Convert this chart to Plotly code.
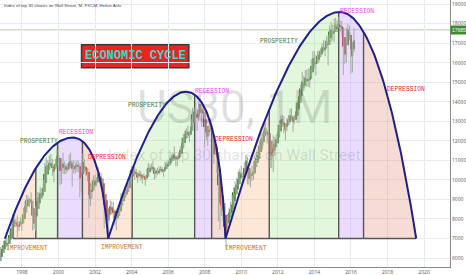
import numpy as np
import plotly.graph_objects as go

# ---------------- data: US30 monthly (Sep 1996 .. Mar 2016) ----------------
start_year, start_month = 1996, 9
first_open = 5616
closes = [
    5882, 6029, 6522, 6448,
    6813, 6877, 6584, 7009, 7331, 7673, 8223, 7622, 7945, 7442, 7823, 7908,
    7907, 8546, 8800, 9063, 8900, 8952, 8883, 7539, 7843, 8592, 9117, 9181,
    9359, 9307, 9786, 10789, 10560, 10971, 10655, 10829, 10337, 10730, 10878, 11497,
    10941, 10128, 10922, 10734, 10522, 10448, 10522, 11215, 10651, 10971, 10415, 10787,
    10887, 10495, 9879, 10735, 10912, 10502, 10523, 9950, 8848, 9075, 9852, 10021,
    9920, 10106, 10404, 9946, 9925, 9243, 8737, 8664, 7592, 8397, 8896, 8342,
    8054, 7891, 7992, 8480, 8850, 8985, 9234, 9416, 9275, 9801, 9782, 10454,
    10488, 10584, 10358, 10226, 10188, 10435, 10140, 10174, 10080, 10027, 10428, 10783,
    10490, 10766, 10504, 10193, 10467, 10275, 10641, 10482, 10569, 10440, 10806, 10718,
    10865, 10993, 11109, 11367, 11168, 11150, 11186, 11381, 11679, 12081, 12222, 12463,
    12622, 12269, 12354, 13063, 13628, 13409, 13212, 13358, 13896, 13930, 13372, 13265,
    12650, 12266, 12263, 12820, 12638, 11350, 11378, 11544, 10851, 9325, 8829, 8776,
    8001, 7063, 7609, 8168, 8500, 8447, 9172, 9496, 9712, 9713, 10345, 10428,
    10067, 10325, 10857, 11009, 10137, 9774, 10466, 10015, 10788, 11118, 11006, 11578,
    11892, 12226, 12320, 12811, 12570, 12414, 12143, 11614, 10913, 11955, 12046, 12218,
    12633, 12952, 13212, 13214, 12393, 12880, 13009, 13091, 13437, 13096, 13026, 13104,
    13861, 14054, 14579, 14840, 15116, 14910, 15500, 14810, 15130, 15546, 16086, 16577,
    15699, 16322, 16458, 16581, 16717, 16827, 16563, 17098, 17043, 17391, 17828, 17823,
    17165, 18133, 17776, 17841, 18011, 17620, 17690, 16528, 16285, 17664, 17720, 17425,
    16466, 16517, 17685,
]
highs = [
    5905, 6094, 6561, 6560,
    6883, 7079, 7112, 7045, 7383, 7796, 8254, 8299, 7996, 8178, 7881, 8113,
    7978, 8569, 8906, 9212, 9211, 9069, 9367, 8883, 8154, 8643, 9380, 9374,
    9647, 9552, 10006, 10878, 11107, 11005, 11252, 11326, 11079, 10800, 11089, 11568,
    11750, 11041, 11119, 11401, 10936, 10815, 10843, 11310, 11401, 10988, 11000, 10899,
    11015, 10983, 10858, 10879, 11350, 11066, 10694, 10610, 10033, 9554, 9982, 10220,
    10259, 10145, 10673, 10404, 10353, 9925, 9379, 9077, 8664, 8538, 8950, 8910,
    8869, 8109, 8522, 8516, 8876, 9323, 9338, 9428, 9686, 9859, 9859, 10461,
    10702, 10754, 10678, 10571, 10226, 10479, 10435, 10217, 10341, 10239, 10572, 10868,
    10783, 10841, 10984, 10555, 10542, 10623, 10705, 10697, 10684, 10569, 10940, 10931,
    11043, 11137, 11318, 11419, 11709, 11258, 11260, 11404, 11732, 12160, 12362, 12530,
    12642, 12795, 12495, 13121, 13692, 13692, 14022, 13652, 14002, 14198, 13930, 13763,
    13280, 12767, 12622, 12891, 13136, 12638, 11698, 11808, 11790, 10851, 9654, 9026,
    9088, 8280, 7924, 8254, 8589, 8878, 9242, 9620, 9918, 10119, 10450, 10580,
    10729, 10403, 10907, 11258, 11167, 10594, 10592, 10720, 10948, 11246, 11451, 11585,
    11980, 12391, 12419, 12876, 12929, 12570, 12753, 12143, 11717, 12284, 12211, 12330,
    12841, 13056, 13289, 13338, 13279, 12899, 13180, 13330, 13653, 13662, 13290, 13314,
    13970, 14054, 14585, 14888, 15542, 15340, 15634, 15658, 15709, 15721, 16174, 16588,
    16588, 16398, 16588, 16631, 16735, 16978, 17151, 17154, 17350, 17395, 17895, 18103,
    17951, 18244, 18289, 18175, 18351, 18176, 18137, 17734, 16933, 17800, 17977, 17896,
    17406, 16800, 17791,
]
lows = [
    5606, 5825, 5993, 6306,
    6434, 6749, 6566, 6391, 6976, 7264, 7644, 7622, 7594, 6936, 7381, 7660,
    7391, 7884, 8444, 8770, 8852, 8627, 8817, 7400, 7467, 7400, 8563, 8695,
    9063, 9133, 9270, 9787, 10440, 10466, 10645, 10646, 10213, 9884, 10578, 10998,
    10898, 9731, 9797, 10305, 10299, 10300, 10407, 10521, 10609, 9654, 10328, 10319,
    10411, 10390, 9106, 9389, 10692, 10375, 10175, 9931, 8062, 8659, 9063, 9763,
    9625, 9680, 10106, 9855, 9808, 9120, 7532, 8043, 7528, 7197, 8305, 8232,
    8015, 7697, 7416, 7992, 8363, 8850, 8985, 9080, 9275, 9275, 9584, 9782,
    10410, 10467, 10000, 10226, 9852, 10143, 9961, 9815, 10025, 9708, 10027, 10428,
    10368, 10487, 10405, 10012, 10103, 10275, 10275, 10397, 10378, 10156, 10440, 10718,
    10667, 10805, 10993, 11050, 11000, 10699, 10706, 11045, 11346, 11679, 11986, 12194,
    12334, 12148, 11939, 12354, 13063, 13266, 13154, 12518, 13029, 13526, 12724, 13138,
    11635, 12035, 11731, 12262, 12479, 11287, 10827, 11280, 10365, 7882, 7449, 8149,
    7909, 7063, 6470, 7509, 8088, 8222, 8088, 9172, 9252, 9487, 9679, 10235,
    10025, 9835, 10325, 10857, 9774, 9757, 9614, 9936, 10015, 10751, 10929, 11006,
    11577, 11892, 11555, 12093, 12381, 11862, 12093, 10604, 10597, 10404, 11231, 11735,
    12218, 12623, 12756, 12710, 12391, 12035, 12492, 12969, 13035, 13037, 12471, 12883,
    13104, 13784, 13937, 14434, 14687, 14551, 14910, 14760, 14777, 14719, 15546, 15703,
    15699, 15340, 16017, 16015, 16333, 16659, 16563, 16333, 16945, 15855, 17291, 17068,
    17136, 17038, 17585, 17573, 17788, 17596, 17400, 15370, 15942, 16013, 17422, 17139,
    15451, 15504, 16545,
]
last_price = 17685

x_tick_years = list(range(1998, 2021, 2))
y_tick_values = list(range(6000, 19001, 1000))

# economic-cycle drawing (arcs: start, left control, peak, right control, end)
base_level = 7000
arc_start = [1997.07, 2002.72, 2009.14]
arc_ctrl_left = [1998.97, 2005.22, 2012.78]
arc_peak_x = [2000.77, 2006.96, 2015.39]
arc_peak_y = [12170, 14520, 18600]
arc_ctrl_right = [2002.29, 2008.76, 2017.62]
arc_end = [2002.72, 2009.14, 2019.57]
phase_bounds = [1997.51, 1998.76, 1999.95, 2001.31, 2002.72,
                2004.03, 2007.45, 2008.38, 2009.14,
                2011.53, 2015.33, 2016.69, 2019.57]
phase_names = ["IMPROVEMENT", "PROSPERITY", "RECESSION", "DEPRESSION"]
phase_fill = {"IMPROVEMENT": "rgba(250,200,160,0.42)",
              "PROSPERITY": "rgba(150,225,130,0.28)",
              "RECESSION": "rgba(190,140,250,0.30)",
              "DEPRESSION": "rgba(230,140,120,0.30)"}
phase_text_color = {"IMPROVEMENT": "#c8782a", "PROSPERITY": "#4a7d2a",
                    "RECESSION": "#f03cf0", "DEPRESSION": "#f01c1c"}
label_text = ["IMPROVEMENT", "PROSPERITY", "RECESSION", "DEPRESSION"] * 3
label_x = [1998.27, 1998.95, 2000.96, 2002.67,
           2003.48, 2004.84, 2008.38, 2009.60,
           2010.28, 2012.04, 2016.34, 2019.03]
label_y = [6510, 11970, 12430, 11150,
           6560, 13800, 14520, 12070,
           6510, 17070, 18600, 14620]

# ---------------- Heikin Ashi ----------------
n = len(closes)
xs = [start_year + (start_month - 1 + i) / 12.0 for i in range(n)]
opens = [first_open] + closes[:-1]
ha_c, ha_o = [], []
for i in range(n):
    c = (opens[i] + highs[i] + lows[i] + closes[i]) / 4.0
    o = (opens[i] + closes[i]) / 2.0 if i == 0 else (ha_o[-1] + ha_c[-1]) / 2.0
    ha_c.append(c)
    ha_o.append(o)
ha_h = [max(highs[i], ha_o[i], ha_c[i]) for i in range(n)]
ha_l = [min(lows[i], ha_o[i], ha_c[i]) for i in range(n)]

fig = go.Figure()

# ---------------- arcs geometry ----------------
def quad(p0, c, p1, m=80):
    t = np.linspace(0, 1, m)
    x = (1 - t) ** 2 * p0[0] + 2 * t * (1 - t) * c[0] + t ** 2 * p1[0]
    y = (1 - t) ** 2 * p0[1] + 2 * t * (1 - t) * c[1] + t ** 2 * p1[1]
    return x, y

arc_x, arc_y = [], []
for k in range(3):
    lx, ly = quad((arc_start[k], base_level), (arc_ctrl_left[k], arc_peak_y[k]),
                  (arc_peak_x[k], arc_peak_y[k]))
    rx, ry = quad((arc_peak_x[k], arc_peak_y[k]), (arc_ctrl_right[k], arc_peak_y[k]),
                  (arc_end[k], base_level))
    arc_x.append(np.concatenate([lx, rx[1:]]))
    arc_y.append(np.concatenate([ly, ry[1:]]))

def arc_at(k, x):
    return float(np.interp(x, arc_x[k], arc_y[k]))

# phase fills
for p in range(len(phase_bounds) - 1):
    k = p // 4
    name = phase_names[p % 4]
    xa, xb = phase_bounds[p], phase_bounds[p + 1]
    inside = (arc_x[k] > xa) & (arc_x[k] < xb)
    px = [xa, xa] + list(arc_x[k][inside]) + [xb, xb]
    py = [base_level, arc_at(k, xa)] + list(arc_y[k][inside]) + [arc_at(k, xb), base_level]
    fig.add_trace(go.Scatter(x=px, y=py, fill="toself", fillcolor=phase_fill[name],
                             mode="lines", line=dict(width=0), hoverinfo="skip",
                             showlegend=False))

# borders
bx, by = [], []
for p, xb in enumerate(phase_bounds):
    top = max(arc_at(min(p // 4, 2), xb), arc_at(max(0, (p - 1) // 4), xb))
    bx += [xb, xb, None]
    by += [base_level, top, None]
bx += [phase_bounds[0], phase_bounds[-1], None]
by += [base_level, base_level, None]
fig.add_trace(go.Scatter(x=bx, y=by, mode="lines", line=dict(color="#555555", width=1.4),
                         hoverinfo="skip", showlegend=False))

# ---------------- candles ----------------
wx, wy = [], []
for i in range(n):
    wx += [xs[i], xs[i], None]
    wy += [ha_l[i], ha_h[i], None]
fig.add_trace(go.Scatter(x=wx, y=wy, mode="lines", line=dict(color="#a3aea0", width=1),
                         hoverinfo="skip", showlegend=False))
bases = [min(ha_o[i], ha_c[i]) for i in range(n)]
heights = [max(abs(ha_c[i] - ha_o[i]), 30) for i in range(n)]
cols = ["#2f7419" if ha_c[i] >= ha_o[i] else "#d01515" for i in range(n)]
fig.add_trace(go.Bar(x=xs, y=heights, base=bases, marker=dict(color=cols, line=dict(width=0)),
                     width=0.086, showlegend=False, hoverinfo="skip"))

# arcs on top
for k in range(3):
    fig.add_trace(go.Scatter(x=arc_x[k], y=arc_y[k], mode="lines",
                             line=dict(color="#1f1f8a", width=2), hoverinfo="skip",
                             showlegend=False))

# ---------------- annotations ----------------
ann = []
# watermark
ann.append(dict(text="US30, 1M", xref="paper", yref="paper", x=0.52, y=0.60,
                showarrow=False, font=dict(family="Roboto", size=46, color="rgba(0,0,0,0.12)")))
ann.append(dict(text="Index of top 30 shares on Wall Street", xref="paper", yref="paper",
                x=0.52, y=0.42, showarrow=False,
                font=dict(family="Roboto", size=15.5, color="rgba(0,0,0,0.12)")))
# legend title
ann.append(dict(text="Index of top 30 shares on Wall Street, M, FXCM, Heikin Ashi",
                xref="paper", yref="paper", x=0.004, y=0.978, xanchor="left", yanchor="middle",
                showarrow=False, font=dict(family="Liberation Sans", size=4.4, color="#444")))
# phase labels
for t, lx_, ly_ in zip(label_text, label_x, label_y):
    ann.append(dict(text=t, x=lx_, y=ly_, xref="x", yref="y", showarrow=False,
                    font=dict(family="Liberation Mono", size=6.3, color=phase_text_color[t])))
# ECONOMIC CYCLE box
ann.append(dict(text="<b>ECONOMIC CYCLE</b>", x=2004.19, y=16330, xref="x", yref="y",
                showarrow=False, font=dict(family="Liberation Mono", size=12, color="#3fd6cf")))
# last price label
ann.append(dict(text=str(last_price), xref="paper", x=1.0, xanchor="left", yref="y",
                y=last_price, showarrow=False, bgcolor="#3f8a2f", borderpad=1,
                font=dict(family="Liberation Sans", size=5, color="white")))

shapes = [
    dict(type="rect", xref="x", yref="y", x0=2001.26, x1=2007.13, y0=15745, y1=16918,
         fillcolor="#e8261f", line=dict(color="#3a3a3a", width=1.5), layer="below"),
    dict(type="line", xref="paper", yref="y", x0=0, x1=1, y0=last_price, y1=last_price,
         line=dict(color="#b7cdb0", width=1), layer="below"),
]

fig.update_layout(
    width=466, height=275, margin=dict(l=0, r=13, t=0, b=7),
    plot_bgcolor="white", paper_bgcolor="white", barmode="overlay",
    showlegend=False, annotations=ann, shapes=shapes,
    xaxis=dict(range=[1996.8, 2021.42], tickvals=x_tick_years,
               ticktext=[str(v) for v in x_tick_years], showgrid=True,
               gridcolor="#e6ebf2", gridwidth=1, zeroline=False, showline=True,
               linecolor="#8a8a8a", tickfont=dict(size=5, color="#555"), ticks=""),
    yaxis=dict(range=[5541, 19214], side="right", tickvals=y_tick_values,
               ticktext=[str(v) for v in y_tick_values],
               showgrid=True, gridcolor="#e6ebf2", gridwidth=1, zeroline=False,
               showline=True, linecolor="#8a8a8a", tickfont=dict(size=5, color="#555"),
               ticks=""),
)
fig.write_html("out.html")
